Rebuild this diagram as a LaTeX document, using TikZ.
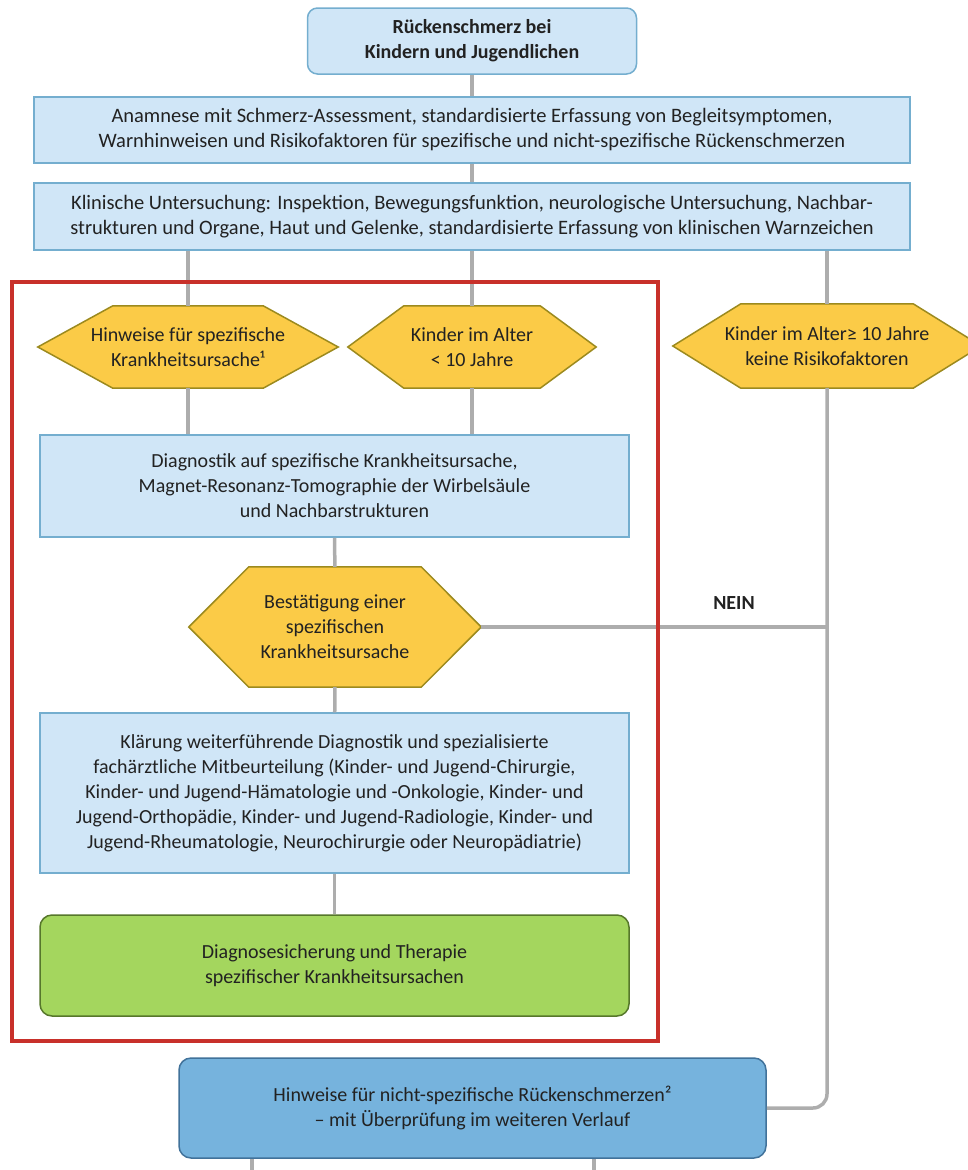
\documentclass[tikz,border=0pt]{standalone}
\usepackage{fontspec}
\setmainfont{Carlito}
\usetikzlibrary{backgrounds}
\definecolor{boxfill}{HTML}{D0E6F7}
\definecolor{boxline}{HTML}{74AECF}
\definecolor{hexfill}{HTML}{FBCB47}
\definecolor{hexline}{HTML}{9C8A1E}
\definecolor{healfill}{HTML}{A4D65E}
\definecolor{healline}{HTML}{56772B}
\definecolor{nsfill}{HTML}{76B3DD}
\definecolor{nsline}{HTML}{41729A}
\definecolor{connline}{HTML}{ADADAD}
\definecolor{frameline}{HTML}{C8302A}
\definecolor{textcol}{HTML}{222222}
\begin{document}
\begin{tikzpicture}[x=1pt,y=-1pt,
  every node/.style={text=textcol,font=\fontsize{20}{25}\selectfont},
  box/.style={draw=boxline,fill=boxfill,line width=1.5pt,align=center,inner sep=0pt},
  hexnode/.style={align=center,inner sep=0pt,minimum height=82pt},
  hexshape/.style={draw=hexline,fill=hexfill,line width=1.5pt},
  conn/.style={draw=connline,line width=3.5pt}]
  \useasboundingbox (0,0) rectangle (967,1170);
  % boxes
  \node[box,rounded corners=10pt,minimum width=329pt,minimum height=66pt,font=\fontsize{20}{25}\selectfont\bfseries] (top) at (472,41) {Rückenschmerz bei\\Kindern und Jugendlichen};
  \node[box,minimum width=876pt,minimum height=66pt,font=\fontsize{20.5}{25}\selectfont] (anam) at (472,130) {Anamnese mit Schmerz-Assessment, standardisierte Erfassung von Begleitsymptomen,\\Warnhinweisen und Risikofaktoren für spezifische und nicht-spezifische Rückenschmerzen};
  \node[box,minimum width=876pt,minimum height=67pt,font=\fontsize{20.5}{25}\selectfont] (klin) at (472,216.5) {Klinische Untersuchung: Inspektion, Bewegungsfunktion, neurologische Untersuchung, Nachbar-\\strukturen und Organe, Haut und Gelenke, standardisierte Erfassung von klinischen Warnzeichen};
  \node[hexnode,minimum width=300pt] (hint) at (188,347) {Hinweise für spezifische\\Krankheitsursache¹};
  \node[hexnode,minimum width=248pt] (young) at (472,347) {Kinder im Alter\\< 10 Jahre};
  \node[hexnode,minimum width=308pt,minimum height=84pt] (old) at (827,346) {Kinder im Alter≥ 10 Jahre\\keine Risikofaktoren};
  \node[box,minimum width=589pt,minimum height=102pt] (diag) at (334.5,486) {Diagnostik auf spezifische Krankheitsursache,\\Magnet-Resonanz-Tomographie der Wirbelsäule\\und Nachbarstrukturen};
  \node[hexnode,minimum width=292pt,minimum height=120pt] (conf) at (335,627) {Bestätigung einer\\spezifischen\\Krankheitsursache};
  \node[box,minimum width=589pt,minimum height=160pt] (klar) at (334.5,793) {Klärung weiterführende Diagnostik und spezialisierte\\fachärztliche Mitbeurteilung (Kinder- und Jugend-Chirurgie,\\Kinder- und Jugend-Hämatologie und -Onkologie, Kinder- und\\Jugend-Orthopädie, Kinder- und Jugend-Radiologie, Kinder- und\\Jugend-Rheumatologie, Neurochirurgie oder Neuropädiatrie)};
  \node[box,draw=healline,fill=healfill,rounded corners=12pt,minimum width=589pt,minimum height=101pt] (heal) at (334.5,965.5) {Diagnosesicherung und Therapie\\spezifischer Krankheitsursachen};
  \node[box,draw=nsline,fill=nsfill,rounded corners=12pt,minimum width=587pt,minimum height=100pt] (nonspec) at (472.5,1108) {Hinweise für nicht-spezifische Rückenschmerzen²\\– mit Überprüfung im weiteren Verlauf};
  \node[font=\fontsize{20}{25}\selectfont\bfseries] (nein) at (734,603) {NEIN};
  \coordinate (outL) at (252,1172);
  \coordinate (outR) at (594,1172);
  % hexagons behind the text
  \begin{scope}[on background layer]
    \foreach \h/\s in {hint/75,young/56,old/68,conf/60}
      \path[hexshape] (\h.west) -- ([xshift=\s]\h.north west) -- ([xshift=-\s]\h.north east) -- (\h.east) -- ([xshift=-\s]\h.south east) -- ([xshift=\s]\h.south west) -- cycle;
  \end{scope}
  % connectors
  \draw[conn] (top) -- (anam);
  \draw[conn] (anam) -- (klin);
  \foreach \h in {hint,young,old} \draw[conn] (klin.south -| \h) -- (\h);
  \foreach \h in {hint,young} \draw[conn] (\h) -- (\h |- diag.north);
  \draw[conn] (diag) -- (conf);
  \draw[conn] (conf) -- (klar);
  \draw[conn] (klar) -- (heal);
  \draw[conn] (conf.east) -- (conf.east -| old);
  \draw[conn,rounded corners=14pt] (old) -- (old |- nonspec.east) -- (nonspec.east);
  \draw[conn] (nonspec.south -| outL) -- (outL);
  \draw[conn] (nonspec.south -| outR) -- (outR);
  % frame round the specific branch
  \draw[frameline,line width=4pt] (12,282) rectangle (658,1041);
\end{tikzpicture}
\end{document}
